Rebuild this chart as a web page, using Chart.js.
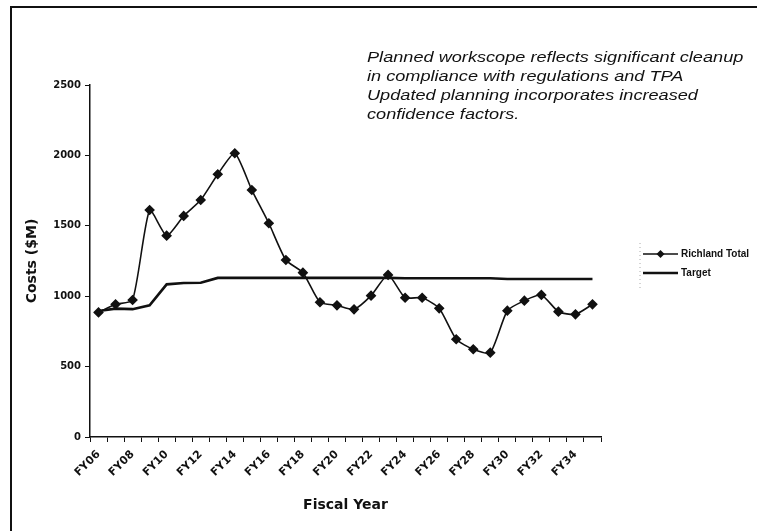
<!DOCTYPE html>
<html>
<head>
<meta charset="utf-8">
<script src="https://cdn.jsdelivr.net/npm/chart.js@4"></script>
<style>
body { margin: 0; background: #fff; }
canvas { display: block; }
</style>
</head>
<body>
<canvas id="myChart" width="757" height="531"></canvas>
<script>
const ctx = document.getElementById("myChart").getContext("2d");

// fiscal years on the x axis, every other one is labelled
const categories = [
	"FY06", "FY07", "FY08", "FY09", "FY10", "FY11", "FY12", "FY13", "FY14", "FY15",
	"FY16", "FY17", "FY18", "FY19", "FY20", "FY21", "FY22", "FY23", "FY24", "FY25",
	"FY26", "FY27", "FY28", "FY29", "FY30", "FY31", "FY32", "FY33", "FY34", "FY35",
];

// costs in $M
const richlandTotal = [
	885, 942, 973, 1612, 1430, 1570, 1683, 1866, 2015, 1754,
	1518, 1257, 1167, 957, 935, 907, 1004, 1151, 989, 989,
	914, 694, 623, 599, 897, 968, 1009, 890, 871, 942,
];
const target = [
	895, 912, 908, 935, 1084, 1094, 1096, 1130, 1130, 1130,
	1130, 1130, 1130, 1130, 1130, 1130, 1130, 1130, 1127, 1127,
	1127, 1127, 1127, 1127, 1122, 1122, 1122, 1122, 1122, 1122,
];

const yTicks = [0, 500, 1000, 1500, 2000, 2500];

const noteLines = [
	"Planned workscope reflects significant cleanup",
	"in compliance with regulations and TPA",
	"Updated planning incorporates increased",
	"confidence factors.",
];

const decorations = {
	id: "decorations",
	beforeDraw(chart) {
		const c = chart.ctx;
		c.save();
		c.fillStyle = "#fff";
		c.fillRect(0, 0, chart.width, chart.height);
		// scanned frame: top and left edges
		c.strokeStyle = "#111";
		c.lineWidth = 2;
		c.beginPath();
		c.moveTo(11, chart.height);
		c.lineTo(11, 7);
		c.lineTo(chart.width, 7);
		c.stroke();
		c.restore();
	},
	afterDraw(chart) {
		const c = chart.ctx;
		c.save();
		// note text, stretched sideways like the scan
		c.fillStyle = "#111";
		c.font = "italic 15px 'Liberation Sans', Arial, sans-serif";
		c.textBaseline = "middle";
		c.textAlign = "left";
		c.save();
		c.translate(367, 0);
		c.scale(1.21, 1);
		noteLines.forEach((line, i) => c.fillText(line, 0, 58 + i * 19));
		c.restore();

		// legend
		const items = chart.data.datasets;
		const lx = 643, lw = 35;
		const ys = [254, 273];
		c.strokeStyle = "#aaa";
		c.lineWidth = 1;
		c.setLineDash([1, 3]);
		c.beginPath();
		c.moveTo(640, 243);
		c.lineTo(640, 290);
		c.stroke();
		c.setLineDash([]);
		items.forEach((ds, i) => {
			const y = ys[i];
			c.strokeStyle = ds.borderColor;
			c.lineWidth = ds.borderWidth;
			c.beginPath();
			c.moveTo(lx, y);
			c.lineTo(lx + lw, y);
			c.stroke();
			if (ds.pointRadius > 0) {
				c.fillStyle = ds.pointBackgroundColor;
				c.beginPath();
				c.moveTo(lx + lw / 2, y - 4);
				c.lineTo(lx + lw / 2 + 4, y);
				c.lineTo(lx + lw / 2, y + 4);
				c.lineTo(lx + lw / 2 - 4, y);
				c.closePath();
				c.fill();
			}
			c.fillStyle = "#111";
			c.font = "bold 10px 'Liberation Sans', Arial, sans-serif";
			c.fillText(ds.label, lx + lw + 3, y);
		});
		c.restore();
	},
};

const myChart = new Chart(ctx, {
	type: "line",
	data: {
		labels: categories,
		datasets: [
			{
				label: "Richland Total",
				data: richlandTotal,
				borderColor: "#111",
				borderWidth: 1.6,
				pointStyle: "rectRot",
				pointRadius: 4.2,
				pointBackgroundColor: "#111",
				pointBorderColor: "#111",
				tension: 0.2,
			},
			{
				label: "Target",
				data: target,
				borderColor: "#111",
				borderWidth: 2.6,
				pointRadius: 0,
				tension: 0,
			},
		],
	},
	options: {
		responsive: false,
		animation: false,
		layout: {
			padding: { top: 85, right: 156, left: 0, bottom: 0 },
		},
		plugins: {
			legend: { display: false },
			tooltip: { enabled: false },
		},
		scales: {
			x: {
				offset: true,
				afterFit: (scale) => {
					scale.height = 94;
				},
				grid: {
					offset: true,
					drawOnChartArea: false,
					tickLength: 5,
					color: "#111",
				},
				border: { display: true, color: "#111", width: 1.5 },
				ticks: {
					autoSkip: false,
					minRotation: 45,
					maxRotation: 45,
					padding: 6,
					color: "#111",
					font: { family: "'DejaVu Sans'", size: 11, weight: "bold" },
					callback: (val, i) => (i % 2 === 0 ? categories[i] : ""),
				},
				title: {
					display: true,
					text: "Fiscal Year",
					color: "#111",
					font: { family: "'DejaVu Sans'", size: 14, weight: "bold" },
					padding: { top: 0, bottom: 17 },
				},
			},
			y: {
				min: yTicks[0],
				max: yTicks[yTicks.length - 1],
				afterFit: (scale) => {
					scale.width = 90;
				},
				afterBuildTicks: (scale) => {
					scale.ticks = yTicks.map((v) => ({ value: v }));
				},
				grid: {
					drawOnChartArea: false,
					tickLength: 5,
					color: "#111",
				},
				border: { display: true, color: "#111", width: 1.5 },
				ticks: {
					padding: 4,
					color: "#111",
					font: { family: "'DejaVu Sans'", size: 10, weight: "bold" },
					callback: (v) => String(v),
				},
				title: {
					display: true,
					text: "Costs ($M)",
					color: "#111",
					font: { family: "'DejaVu Sans'", size: 14, weight: "bold" },
					padding: { top: 24, bottom: 0 },
				},
			},
		},
	},
	plugins: [decorations],
});
</script>
</body>
</html>
